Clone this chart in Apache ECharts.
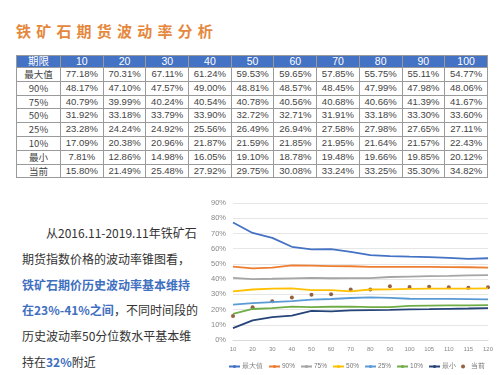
<!DOCTYPE html>
<html>
<head>
    <meta charset="utf-8">
    <title>铁矿石期货波动率分析</title>
    <script src="https://cdn.jsdelivr.net/npm/echarts@6/dist/echarts.min.js"></script>
    <style type="text/css">
        *{margin: 0;padding: 0;}
        body{width: 500px;height: 375px;overflow: hidden;background: #fff;font-family: 'Noto Sans CJK SC','Noto Sans',sans-serif;position: relative;}
        .title{position: absolute;left: 16px;top: 20px;font-size: 15px;font-weight: 700;letter-spacing: 5.2px;color: #E5883E;}
        #tb{position: absolute;left: 16px;top: 55px;width: 472px;border-collapse: collapse;table-layout: fixed;}
        #tb td,#tb th{border: 1px solid #9a9a9a;text-align: center;padding: 0;line-height: 12.8px;height: 12.8px;font-size: 9.5px;color: #444;font-family: 'Liberation Sans','Noto Sans CJK SC',sans-serif;font-weight: 400;}
        #tb th{background: #4472C4;color: #fff;font-size: 10.5px;height: 11px;line-height: 11px;}
        #tb td.lab{font-family: 'Noto Sans CJK SC',sans-serif;font-size: 9.5px;}
        .txt{position: absolute;left: 22px;top: 220px;width: 185px;font-size: 12px;line-height: 25.8px;color: #333;white-space: nowrap;}
        .txt .hl{color: #3F6FBF;font-weight: 700;}
        #main{position: absolute;left: 200px;top: 195px;width: 300px;height: 180px;}
    </style>
</head>
<body>
<div class="title">铁矿石期货波动率分析</div>
<table id="tb"></table>
<div class="txt">
    <div style="text-indent: 2em;">从2016.11-2019.11年铁矿石</div>
    <div>期货指数价格的波动率锥图看，</div>
    <div class="hl">铁矿石期价历史波动率基本维持</div>
    <div><span class="hl">在23%-41%之间</span>，不同时间段的</div>
    <div>历史波动率50分位数水平基本维</div>
    <div>持在<span class="hl">32%</span>附近</div>
</div>
<div id="main"></div>
<script type="text/javascript">
    // 期限（表格只列到100，图里延伸到120）
    var periods = ['10','20','30','40','50','60','70','80','90','100','105','110','115','120'];
    var tableCols = 10;
    var names = ['最大值','90%','75%','50%','25%','10%','最小','当前'];

    var maxV = [77.18,70.31,67.11,61.24,59.53,59.65,57.85,55.75,55.11,54.77,54.5,54.0,53.3,53.7];
    var p90  = [48.17,47.10,47.57,49.00,48.81,48.57,48.45,47.99,47.98,48.06,48.0,47.9,47.8,47.6];
    var p75  = [40.79,39.99,40.24,40.54,40.78,40.56,40.68,40.66,41.39,41.67,41.9,42.1,42.4,42.6];
    var p50  = [31.92,33.18,33.79,33.90,32.72,32.71,31.91,33.18,33.30,33.60,33.7,33.8,33.8,33.9];
    var p25  = [23.28,24.24,24.92,25.56,26.49,26.94,27.58,27.98,27.65,27.11,27.0,27.0,26.9,26.7];
    var p10  = [17.09,20.38,20.96,21.87,21.59,21.85,21.95,21.64,21.57,22.43,22.6,22.7,22.8,22.9];
    var minV = [7.81,12.86,14.98,16.05,19.10,18.78,19.48,19.66,19.85,20.12,20.3,20.5,20.7,21.0];
    var cur  = [15.80,21.49,25.48,27.92,29.75,30.08,33.24,33.25,35.30,34.82,34.9,34.7,34.3,34.6];

    var rows = [maxV,p90,p75,p50,p25,p10,minV,cur];
    var colors = ['#4472C4','#ED7D31','#A5A5A5','#FFC000','#5B9BD5','#70AD47','#264478','#7B3A12'];

    /*---------------- 表格 ----------------*/
    var html = '<tr><th style="width:43px;">期限</th>';
    for(var i = 0;i < tableCols;i++){
        html += '<th>' + periods[i] + '</th>';
    }
    html += '</tr>';
    for(var r = 0;r < rows.length;r++){
        html += '<tr><td class="lab">' + names[r] + '</td>';
        for(var i = 0;i < tableCols;i++){
            html += '<td>' + rows[r][i].toFixed(2) + '%</td>';
        }
        html += '</tr>';
    }
    document.getElementById('tb').innerHTML = html;

    /*---------------- 图 ----------------*/
    var myChart = echarts.init(document.getElementById('main'));
    var series = [];
    for(var r = 0;r < rows.length;r++){
        if(r == 7){
            series.push({
                name: names[r],
                type: 'scatter',
                symbolSize: 4,
                itemStyle: {color: colors[r]},
                data: rows[r]
            });
        }else{
            series.push({
                name: names[r],
                type: 'line',
                symbol: 'none',
                lineStyle: {width: 1.8, color: colors[r]},
                itemStyle: {color: colors[r]},
                data: rows[r]
            });
        }
    }
    var option = {
        animation: false,
        grid: {left: 33, right: 12, top: 8, bottom: 35},
        legend: {
            left: 28,
            bottom: 5,
            width: 280,
            padding: 0,
            itemWidth: 11,
            itemHeight: 4,
            itemGap: 5,
            textStyle: {fontSize: 6.5, color: '#777', padding: [0,0,0,-3]},
            data: names
        },
        xAxis: {
            type: 'category',
            boundaryGap: false,
            data: periods,
            axisLine: {show: true, lineStyle: {color: '#d9d9d9'}},
            axisTick: {show: false},
            axisLabel: {fontSize: 6, color: '#888', margin: 6, interval: 0}
        },
        yAxis: {
            type: 'value',
            min: 0,
            max: 90,
            interval: 10,
            axisLine: {show: false},
            axisTick: {show: false},
            splitLine: {lineStyle: {color: '#e6e6e6'}},
            axisLabel: {fontSize: 7.5, color: '#888', margin: 7, formatter: '{value}%'}
        },
        series: series
    };
    myChart.setOption(option);
</script>
</body>
</html>
